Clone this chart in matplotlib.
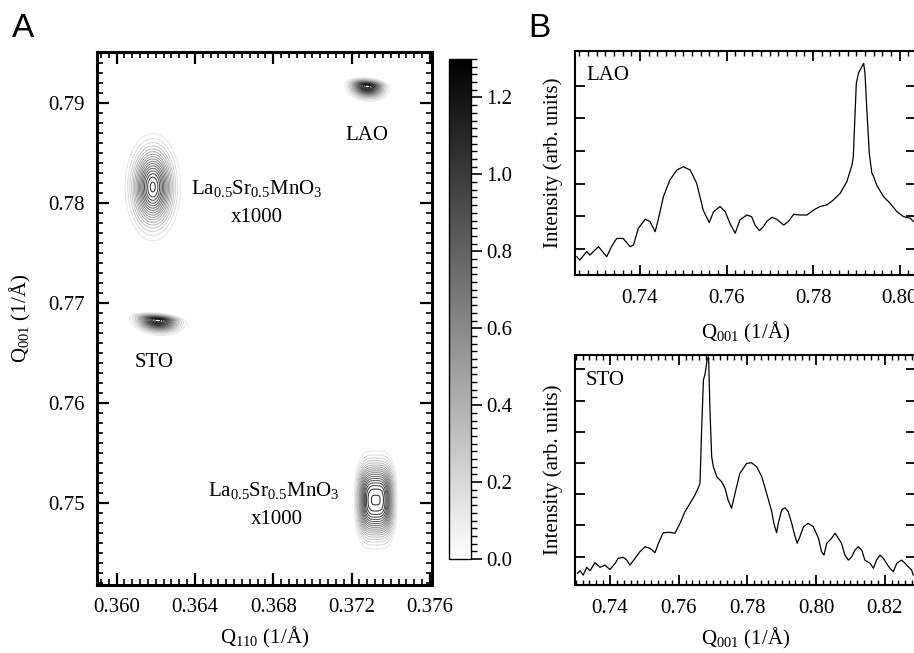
import numpy as np
import matplotlib
matplotlib.use("Agg")
import matplotlib.pyplot as plt
from matplotlib.ticker import MultipleLocator, NullFormatter
from matplotlib import colors, cm

plt.rcParams['font.family'] = ['Liberation Serif', 'DejaVu Serif']
plt.rcParams['mathtext.fontset'] = 'custom'
plt.rcParams['mathtext.rm'] = 'Liberation Serif'
plt.rcParams['mathtext.it'] = 'Liberation Serif:italic'
plt.rcParams['mathtext.bf'] = 'Liberation Serif:bold'

# ---------------------------------------------------------------------- #
# reciprocal space map: peaks (centre, widths, height)
peak_q110 = [0.3728, 0.36185, 0.3621, 0.37323]
peak_q001 = [0.7917, 0.7816, 0.7683, 0.7503]
peak_amp = [1.3, 1.1, 1.3, 1.15]
peak_wx = [0.00053, 0.00067, 0.00066, 0.00071]
peak_wy_up = [0.00037, 0.00255, 0.00032, 0.00261]
peak_wy_down = [0.0007, 0.00255, 0.0007, 0.00261]
peak_tilt = [0.15, 0.0, 0.15, 0.0]
peak_shape_x = [2.0, 2.0, 2.0, 3.5]
peak_shape_y = [2.0, 2.0, 2.0, 2.4]

map_labels = ['LAO', 'STO']
cbar_ticks = [0.0, 0.2, 0.4, 0.6, 0.8, 1.0, 1.2]

# LAO line scan
lao_q = [0.7254, 0.7261, 0.7277, 0.7284, 0.7304, 0.7323, 0.7334, 0.7346,
         0.7361, 0.7377, 0.7385, 0.7396, 0.7412, 0.7423, 0.7435, 0.7442,
         0.7454, 0.7469, 0.7485, 0.7500, 0.7516, 0.7531, 0.7546, 0.7560,
         0.7570, 0.7585, 0.7597, 0.7608, 0.7620, 0.7631, 0.7647, 0.7658,
         0.7666, 0.7676, 0.7685, 0.7693, 0.7705, 0.7716, 0.7732, 0.7743,
         0.7755, 0.7770, 0.7786, 0.7801, 0.7816, 0.7832, 0.7847, 0.7863,
         0.7878, 0.7890, 0.7893, 0.7900, 0.7905, 0.7913, 0.7917, 0.7920,
         0.7924, 0.7930, 0.7934, 0.7936, 0.7940, 0.7947, 0.7963, 0.7978,
         0.7994, 0.8009, 0.8025, 0.8032]
lao_int = [0.76, 0.66, 0.92, 0.81, 1.07, 0.76, 1.07, 1.32,
           1.32, 1.07, 1.12, 1.63, 1.91, 1.84, 1.53, 1.89,
           2.60, 3.11, 3.42, 3.52, 3.42, 3.01, 2.19, 1.81,
           2.14, 2.30, 2.14, 1.78, 1.48, 1.89, 2.04, 1.99,
           1.73, 1.56, 1.68, 1.84, 1.97, 1.91, 1.73, 1.84,
           2.06, 2.04, 2.04, 2.19, 2.30, 2.35, 2.50, 2.71,
           3.06, 3.57, 3.83, 6.08, 6.39, 6.59, 6.69, 6.39,
           5.36, 3.93, 3.52, 3.32, 3.22, 2.96, 2.60, 2.40,
           2.14, 1.99, 1.94, 1.84]

# STO line scan
sto_q = [0.7305, 0.7313, 0.7322, 0.7332, 0.7342, 0.7356, 0.7371, 0.7385,
         0.7400, 0.7415, 0.7424, 0.7439, 0.7449, 0.7458, 0.7473, 0.7487,
         0.7502, 0.7516, 0.7531, 0.7541, 0.7555, 0.7575, 0.7589, 0.7604,
         0.7618, 0.7633, 0.7647, 0.7659, 0.7662, 0.7667, 0.7672, 0.7677,
         0.7683, 0.7687, 0.7691, 0.7696, 0.7701, 0.7711, 0.7725, 0.7735,
         0.7744, 0.7754, 0.7764, 0.7778, 0.7798, 0.7812, 0.7827, 0.7842,
         0.7856, 0.7871, 0.7877, 0.7885, 0.7890, 0.7900, 0.7909, 0.7919,
         0.7929, 0.7939, 0.7945, 0.7953, 0.7963, 0.7977, 0.7992, 0.8007,
         0.8016, 0.8023, 0.8031, 0.8045, 0.8055, 0.8065, 0.8074, 0.8084,
         0.8094, 0.8104, 0.8113, 0.8123, 0.8133, 0.8142, 0.8157, 0.8167,
         0.8176, 0.8186, 0.8196, 0.8205, 0.8215, 0.8225, 0.8235, 0.8249,
         0.8259, 0.8268, 0.8278, 0.8283]
sto_int = [0.47, 0.55, 0.41, 0.66, 0.55, 0.81, 0.66, 0.73,
           0.59, 0.79, 0.95, 0.98, 0.89, 0.73, 0.95, 1.16,
           1.32, 1.27, 1.13, 1.43, 1.77, 1.78, 1.75, 2.07,
           2.44, 2.71, 2.97, 3.26, 3.35, 5.16, 6.66, 6.87,
           7.32, 7.40, 5.70, 4.20, 3.88, 3.56, 3.40, 3.19,
           2.81, 2.55, 3.03, 3.67, 3.99, 4.01, 3.88, 3.56,
           3.03, 2.44, 2.07, 1.77, 2.07, 2.50, 2.57, 2.44,
           2.07, 1.64, 1.43, 1.64, 1.96, 2.07, 1.96, 1.59,
           1.16, 1.05, 1.43, 1.59, 1.75, 1.59, 1.43, 1.05,
           0.89, 1.00, 1.21, 1.32, 1.21, 0.89, 0.79, 0.63,
           0.89, 1.05, 0.95, 0.79, 0.63, 0.52, 0.79, 0.89,
           0.79, 0.68, 0.58, 0.41]

# ---------------------------------------------------------------------- #

fig = plt.figure(figsize=(9.14, 6.53), dpi=100)

# ---- panel A ----
axA = fig.add_axes([0.1061, 0.1041, 0.3665, 0.8162])
qx = np.linspace(0.359, 0.3761, 700)
qz = np.linspace(0.7418, 0.7951, 900)
QX, QZ = np.meshgrid(qx, qz)
inten = np.zeros_like(QX)
for x0, y0, a, wx, wu, wd, t, px, py in zip(peak_q110, peak_q001, peak_amp, peak_wx,
                                            peak_wy_up, peak_wy_down, peak_tilt,
                                            peak_shape_x, peak_shape_y):
    dx = (QX - x0) / wx
    dyr = (QZ - y0) + t * (QX - x0)
    dy = dyr / np.where(dyr > 0, wu, wd)
    inten += a * np.exp(-0.5 * (np.abs(dx) ** px + np.abs(dy) ** py))

norm = colors.Normalize(vmin=0.0, vmax=1.3)
levels = np.arange(0.12, 1.3, 0.06)
axA.contour(QX, QZ, inten, levels=levels, cmap='gray_r', norm=norm, linewidths=0.7)

axA.set_xlim(0.359, 0.3761)
axA.set_ylim(0.7418, 0.7951)
axA.xaxis.set_major_locator(MultipleLocator(0.004))
axA.xaxis.set_minor_locator(MultipleLocator(0.0004))
axA.yaxis.set_major_locator(MultipleLocator(0.01))
axA.yaxis.set_minor_locator(MultipleLocator(0.001))
axA.xaxis.set_major_formatter(plt.FormatStrFormatter('%.3f'))
axA.yaxis.set_major_formatter(plt.FormatStrFormatter('%.2f'))
axA.tick_params(which='both', direction='in', top=True, right=True, labelsize=15)
axA.tick_params(which='major', length=8.5, width=1.6, pad=9)
axA.tick_params(which='minor', length=4, width=1.2)
for s in axA.spines.values():
    s.set_linewidth(2.2)
axA.set_xlabel(r'Q$_{110}$ (1/Å)', fontsize=15)
axA.set_ylabel(r'Q$_{001}$ (1/Å)', fontsize=15)
axA.xaxis.set_label_coords(0.5, -0.075)
axA.yaxis.set_label_coords(-0.19, 0.5)

axA.text(0.3728, 0.7868, map_labels[0], fontsize=15, ha='center', va='center')
axA.text(0.3619, 0.7641, map_labels[1], fontsize=15, ha='center', va='center')
lsmo = r'La$_{0.5}$Sr$_{0.5}$MnO$_{3}$'
axA.text(0.36718, 0.7815, lsmo, fontsize=15, ha='center', va='center')
axA.text(0.36718, 0.7786, 'x1000', fontsize=15, ha='center', va='center')
axA.text(0.3680, 0.7513, lsmo, fontsize=15, ha='center', va='center')
axA.text(0.3682, 0.7484, 'x1000', fontsize=15, ha='center', va='center')

# ---- colorbar ----
cax = fig.add_axes([0.4912, 0.1440, 0.0241, 0.7657])
cb = fig.colorbar(cm.ScalarMappable(norm=norm, cmap='gray_r'), cax=cax)
cb.set_ticks(cbar_ticks)
cb.ax.yaxis.set_major_formatter(plt.FormatStrFormatter('%.1f'))
cb.ax.yaxis.set_minor_locator(MultipleLocator(0.02))
cb.ax.tick_params(which='major', direction='out', length=8, width=1.2, labelsize=15, pad=3)
cb.ax.tick_params(which='minor', direction='out', length=4, width=1.0)
cb.outline.set_linewidth(1.0)

# ---- panel B ----
def scan_axes(rect, q, y, xlim, ylim, yticks, label, xlab_y):
    ax = fig.add_axes(rect)
    ax.plot(q, y, color='black', lw=0.9)
    ax.set_xlim(*xlim)
    ax.set_ylim(*ylim)
    ax.xaxis.set_major_locator(MultipleLocator(0.02))
    ax.xaxis.set_minor_locator(MultipleLocator(0.002))
    ax.xaxis.set_major_formatter(plt.FormatStrFormatter('%.2f'))
    ax.set_yticks(yticks)
    ax.yaxis.set_major_formatter(NullFormatter())
    ax.tick_params(which='both', direction='in', top=True, right=True, labelsize=15)
    ax.tick_params(which='major', length=7, width=1.3, pad=10)
    ax.tick_params(which='minor', length=3.5, width=1.0)
    for s in ax.spines.values():
        s.set_linewidth(1.5)
    ax.set_xlabel(r'Q$_{001}$ (1/Å)', fontsize=15)
    ax.set_ylabel('Intensity (arb. units)', fontsize=15)
    ax.xaxis.set_label_coords(0.5, xlab_y)
    ax.yaxis.set_label_coords(-0.035, 0.5)
    ax.text(0.032, 0.89, label, transform=ax.transAxes, fontsize=15, ha='left', va='center')
    return ax

scan_axes([0.6291, 0.5789, 0.3731, 0.3430], lao_q, lao_int,
          (0.72497, 0.8038), (0.2, 7.07), [1, 2, 3, 4, 5, 6], 'LAO', -0.2)
scan_axes([0.6291, 0.1041, 0.3731, 0.3522], sto_q, sto_int,
          (0.7298, 0.8291), (0.093, 7.46), [1, 2, 3, 4, 5, 6, 7], 'STO', -0.18)

fig.text(0.013, 0.98, 'A', fontsize=24, family='Liberation Sans', va='top', ha='left')
fig.text(0.578, 0.98, 'B', fontsize=24, family='Liberation Sans', va='top', ha='left')

fig.savefig('out.png', dpi=100)
